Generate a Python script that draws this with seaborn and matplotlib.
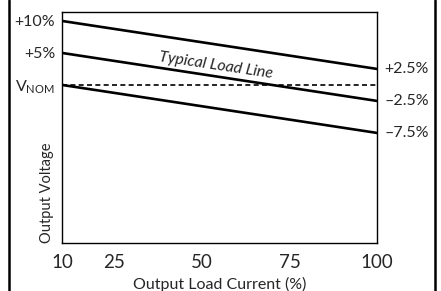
import matplotlib.pyplot as plt
import pandas as pd
import seaborn as sns
from matplotlib.lines import Line2D

# load line data (percent deviation from nominal vs load current)
load_current = [10, 100]
line_top = [10, 2.5]
line_mid = [5, -2.5]
line_low = [0, -7.5]
right_labels = ['+2.5%', '\u20132.5%', '\u20137.5%']
left_ticks = [10, 5, 0]
left_labels = ['+10%', '+5%', r'V$_{\mathrm{NOM}}$']
x_ticks = [10, 25, 50, 75, 100]

sns.set_style('white')
plt.rcParams['font.family'] = ['Lato', 'DejaVu Sans']
plt.rcParams['mathtext.fontset'] = 'custom'
plt.rcParams['mathtext.rm'] = 'Lato'

df = pd.DataFrame({
    'current': load_current * 3,
    'voltage': line_top + line_mid + line_low,
    'line': ['top'] * 2 + ['mid'] * 2 + ['low'] * 2,
})

fig = plt.figure(figsize=(4.41, 2.91), dpi=100)
ax = fig.add_axes([0.1406, 0.165, 0.7144, 0.7938])

sns.lineplot(data=df, x='current', y='voltage', units='line', estimator=None,
             color='black', linewidth=1.9, ax=ax)
ax.plot(load_current, [0, 0], color='black', linewidth=1.2, linestyle=(0, (3, 2)))

ax.set_xlim(10, 100)
ax.set_ylim(-24.7, 11.4)
ax.set_xticks(x_ticks)
ax.set_xticklabels([str(t) for t in x_ticks], fontsize=13.5)
ax.set_yticks(left_ticks)
ax.set_yticklabels(left_labels, fontsize=11.5)
ax.tick_params(axis='x', direction='out', length=7, width=2, pad=1)
ax.tick_params(axis='y', length=0, pad=5)
for s in ax.spines.values():
    s.set_linewidth(1)
    s.set_color('black')

ax.set_xlabel('Output Load Current (%)', fontsize=11.5)
ax.xaxis.set_label_coords(0.5, -0.145)
ax.set_ylabel('')
ax.text(-0.048, 0.0, 'Output Voltage', transform=ax.transAxes, rotation=90,
        ha='center', va='bottom', fontsize=10.5)

for lbl, yv in zip(right_labels, [line_top[1], line_mid[1], line_low[1]]):
    ax.text(102, yv, lbl, ha='left', va='center', fontsize=11.5, clip_on=False)

ax.text(54, 3.1, 'Typical Load Line', rotation=-8.5, ha='center', va='center',
        fontsize=11.5, style='italic')

# outer frame, left and right only
fig.add_artist(Line2D([0.0204, 0.0204], [0, 1], color='black', linewidth=1.8))
fig.add_artist(Line2D([0.9875, 0.9875], [0, 1], color='black', linewidth=1.8))

fig.savefig('out.png', dpi=100)
